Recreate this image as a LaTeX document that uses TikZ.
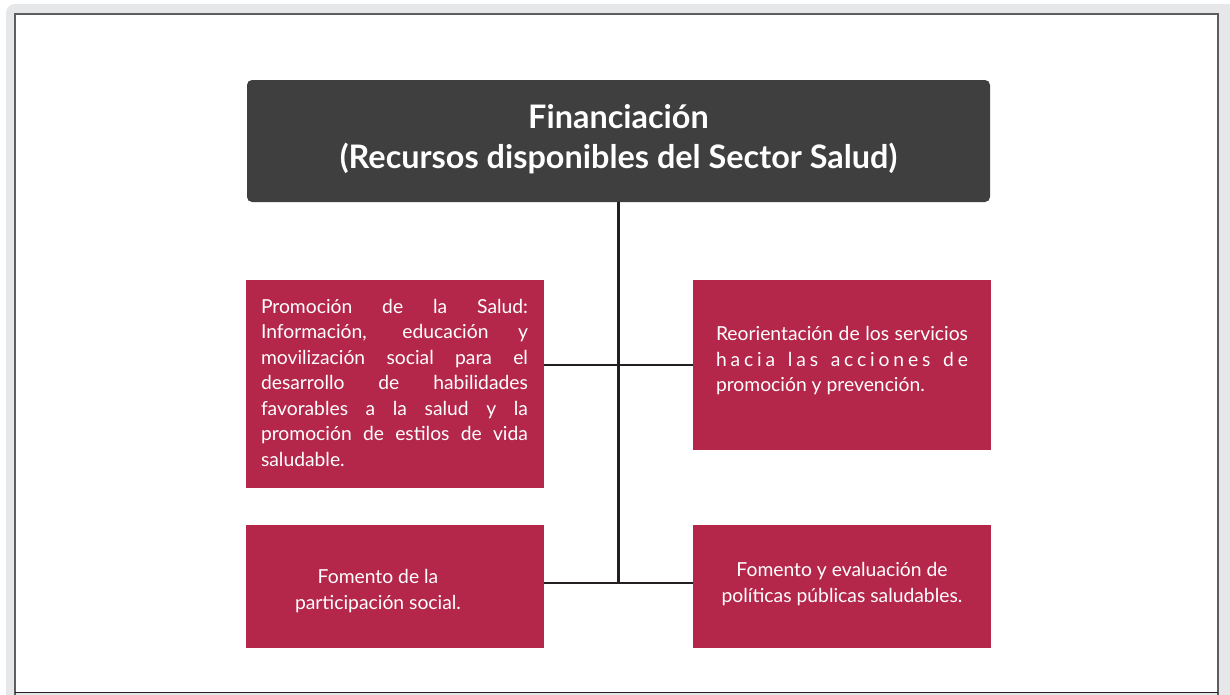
\documentclass[tikz,border=0pt]{standalone}
\usepackage{fontspec}
\setmainfont{Lato}
\definecolor{crimson}{HTML}{B5274A}
\definecolor{darkbox}{HTML}{3F3F3F}
\definecolor{framegrey}{HTML}{E6E7E9}
\definecolor{frameline}{HTML}{5E5E5E}
\definecolor{linecol}{HTML}{231F20}
\begin{document}
\begin{tikzpicture}[x=1pt,y=-1pt,
  topbox/.style={fill=darkbox, rounded corners=5pt, minimum width=743pt, minimum height=122pt, inner sep=0pt},
  redbox/.style={fill=crimson, minimum width=298pt, inner sep=0pt},
  boxtext/.style={text=white, inner sep=0pt, font=\fontsize{19.3}{25.5}\selectfont},
  conn/.style={draw=linecol, line width=2.6pt}]
\useasboundingbox (0,0) rectangle (1230,694);
\fill[white] (0,0) rectangle (1230,694);
\fill[framegrey, rounded corners=9pt] (6,4) rectangle (1245,710);
\fill[white] (15,14) rectangle (1218,692);
\draw[frameline, line width=1.5pt] (15,700) -- (15,14) -- (1218,14) -- (1218,700);
\draw[linecol, line width=1.5pt] (15,692.5) -- (1218,692.5);

\node[topbox] (top) at (618.5,141) {};
\node[redbox, minimum height=208pt] (lt) at (394.5,384) {};
\node[redbox, minimum height=170pt] (rt) at (842,365) {};
\node[redbox, minimum height=123pt] (lb) at (394.5,586.5) {};
\node[redbox, minimum height=123pt] (rb) at (842,586.5) {};

\coordinate (j1) at (618.5,365);
\coordinate (j2) at (618.5,583);
\draw[conn] (top.south) -- (j2);
\draw[conn] (lt.east |- j1) -- (rt.west |- j1);
\draw[conn] (lb.east |- j2) -- (rb.west |- j2);

\node[text=white, align=center, font=\bfseries\fontsize{32.4}{40}\selectfont] (toptext) at (618.5,139) {Financiación\\(Recursos disponibles del Sector Salud)};

\node[boxtext, align=left] (lttext) at (394.5,382.5) {%
\makebox[267pt][s]{Promoción de la Salud:}\\
\makebox[267pt][s]{Información, educación y}\\
\makebox[267pt][s]{movilización social para el}\\
\makebox[267pt][s]{desarrollo de habilidades}\\
\makebox[267pt][s]{favorables a la salud y la}\\
\makebox[267pt][s]{promoción de estilos de vida}\\
saludable.};

\node[boxtext, align=left] (rttext) at (842,361) {%
\makebox[252pt][s]{Reorientación de los servicios}\\
\makebox[252pt][s]{\addfontfeature{LetterSpace=20}hacia las acciones de}\\
promoción y prevención.};

\node[boxtext, align=center] (lbtext) at (378,591) {Fomento de la\\participación social.};
\node[boxtext, align=center] (rbtext) at (842,584) {Fomento y evaluación de\\políticas públicas saludables.};
\end{tikzpicture}
\end{document}
